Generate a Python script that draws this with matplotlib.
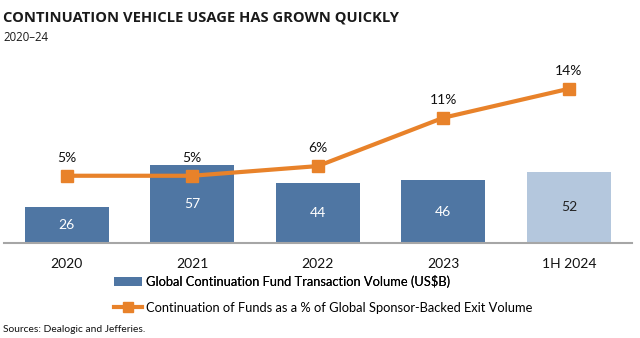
import matplotlib
matplotlib.use("Agg")
import matplotlib.pyplot as plt
from matplotlib.lines import Line2D
from matplotlib.patches import Patch

categories = ["2020", "2021", "2022", "2023", "1H 2024"]
volume = [26, 57, 44, 46, 52]
pct = [5, 5, 6, 11, 14]
pct_labels = ["5%", "5%", "6%", "11%", "14%"]

BLUE = "#4F76A3"
LIGHT = "#B4C7DD"
ORANGE = "#E8822A"
FONT = ["Lato", "DejaVu Sans"]

fig = plt.figure(figsize=(6.4, 3.38), dpi=100)
ax = fig.add_axes([0.006, 0.281, 0.981, 0.541])
x = list(range(len(categories)))
colors = [BLUE] * 4 + [LIGHT]
ax.bar(x, volume, width=0.67, color=colors, edgecolor="none", zorder=2)
ax.set_xlim(-0.5, 4.5)
ax.set_ylim(0, 133.6)
for i, v in enumerate(volume):
    ax.text(i, v / 2, str(v), ha="center", va="center", fontsize=10,
            color="white" if i < 4 else "#222222", family=FONT, zorder=3)

for s in ["top", "right", "left"]:
    ax.spines[s].set_visible(False)
ax.spines["bottom"].set_color("#A6A6A6")
ax.spines["bottom"].set_linewidth(1.5)
ax.set_yticks([])
ax.set_xticks(x)
ax.set_xticklabels(categories, fontsize=10, family=FONT, color="#111111")
ax.tick_params(axis="x", length=0, pad=11)

ax2 = ax.twinx()
ax2.set_ylim(-1.96, 16.96)
ax2.plot(x, pct, color=ORANGE, lw=3, marker="s", markersize=9, zorder=4)
for i, v in enumerate(pct):
    ax2.text(i, v + 1.2, pct_labels[i], ha="center", va="bottom", fontsize=10,
             family=FONT, color="#111111")
ax2.set_yticks([])
for s in ["top", "right", "left", "bottom"]:
    ax2.spines[s].set_visible(False)

fig.text(0.005, 0.948, "CONTINUATION VEHICLE USAGE HAS GROWN QUICKLY",
         fontsize=10.6, fontweight="bold", family=["Open Sans", "DejaVu Sans"],
         color="#1a1a1a", va="center")
fig.text(0.005, 0.890, "2020\u201324", fontsize=8.3, family=["Open Sans", "DejaVu Sans"],
         color="#1a1a1a", va="center")

handles1 = [Patch(facecolor=BLUE, edgecolor="none")]
leg1 = fig.legend(handles1, ["Global Continuation Fund Transaction Volume (US$B)"],
                  loc="center left", bbox_to_anchor=(0.178, 0.167), frameon=False,
                  prop={"family": FONT, "size": 9.3}, handlelength=2.2, handleheight=0.6,
                  handletextpad=0.3, borderpad=0, borderaxespad=0)
handles2 = [Line2D([0], [0], color=ORANGE, lw=3, marker="s", markersize=7)]
fig.legend(handles2, ["Continuation of Funds as a % of Global Sponsor-Backed Exit Volume"],
           loc="center left", bbox_to_anchor=(0.178, 0.089), frameon=False,
           prop={"family": FONT, "size": 9.3}, handlelength=2.2,
           handletextpad=0.3, borderpad=0, borderaxespad=0)
fig.add_artist(leg1)

fig.text(0.005, 0.024, "Sources: Dealogic and Jefferies.", fontsize=7.4,
         family=FONT, color="#111111", va="center")

fig.savefig("out.png", dpi=100)
